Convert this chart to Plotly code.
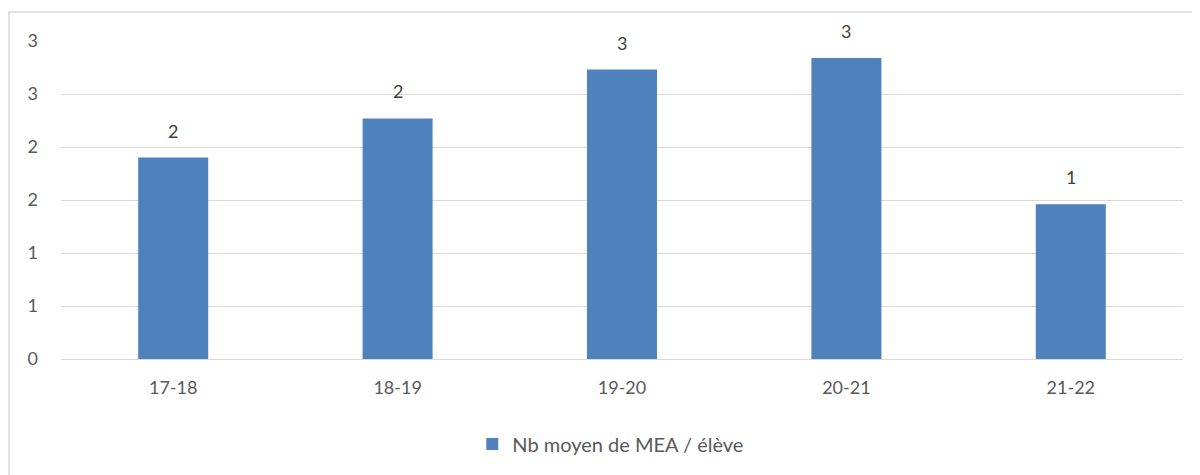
import plotly.graph_objects as go

# school years and average number of MEA per pupil
years = ['17-18', '18-19', '19-20', '20-21', '21-22']
nb_moyen = [1.90, 2.27, 2.73, 2.84, 1.46]
series_name = 'Nb moyen de MEA / élève'

font_family = 'Lato, "Open Sans", sans-serif'
grey_text = '#595959'

# the page has an 8px body margin, so the figure is sized for what is visible
W, H = 1192, 467
L, R, T, B = 53, 17, 33, 116
pw, ph = W - L - R, H - T - B

fig = go.Figure()
fig.add_trace(go.Bar(
    x=years,
    y=nb_moyen,
    name=series_name,
    marker_color='#4f81bd',
    marker_line_width=0,
    width=0.312,
))

# data labels, rounded like the spreadsheet format
for yr, v in zip(years, nb_moyen):
    fig.add_annotation(
        x=yr, y=v, text=f'{v:.0f}',
        showarrow=False, yanchor='bottom', yshift=14,
        font=dict(size=18, color='#404040', family=font_family),
    )

fig.update_layout(
    width=W,
    height=H,
    margin=dict(l=L, r=R, t=T, b=B),
    plot_bgcolor='white',
    paper_bgcolor='white',
    font=dict(family=font_family, size=18, color=grey_text),
    showlegend=True,
    legend=dict(
        orientation='h',
        x=0.49, xanchor='center',
        y=-85 / ph, yanchor='middle',
        font=dict(size=20, color=grey_text),
    ),
)
fig.update_xaxes(
    showgrid=False,
    showline=False,
    ticks='',
    ticklabelstandoff=16,
    tickfont=dict(size=18, color=grey_text),
)
fig.update_yaxes(
    range=[0, 3],
    dtick=0.5,
    tickformat='.0f',
    showgrid=True,
    gridcolor='#d9d9d9',
    gridwidth=1,
    zeroline=True,
    zerolinecolor='#d9d9d9',
    zerolinewidth=1,
    ticks='',
    ticklabelstandoff=22,
    tickfont=dict(size=18, color=grey_text),
)

# outer chart border like in the spreadsheet
fig.add_shape(
    type='rect', xref='paper', yref='paper',
    x0=-(L - 1) / pw, x1=1 + 40 / pw,
    y0=-(B + 20) / ph, y1=1 + (T - 4) / ph,
    line=dict(color='#d9d9d9', width=1.5),
    fillcolor='rgba(0,0,0,0)',
    layer='below',
)

fig.write_html('out.html')
